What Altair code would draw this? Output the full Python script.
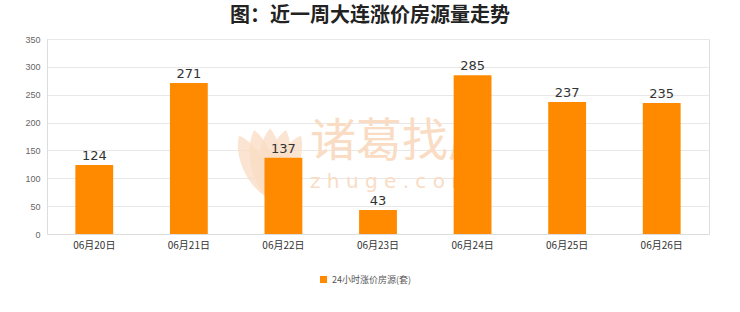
import altair as alt
import pandas as pd

dates = ["06月20日", "06月21日", "06月22日", "06月23日", "06月24日", "06月25日", "06月26日"]
counts = [124, 271, 137, 43, 285, 237, 235]
series_name = "24小时涨价房源(套)"
bar_color = "#FF8A00"

df = pd.DataFrame({"date": dates, "count": counts, "series": series_name})

W, H = 662, 195
cjk = "Noto Sans CJK SC"
wm_color = "#f9dcc3"

base = alt.Chart(df).encode(
    x=alt.X(
        "date:N",
        sort=dates,
        scale=alt.Scale(paddingInner=0.6, paddingOuter=0.3),
        axis=alt.Axis(
            title=None, labelAngle=0, labelFont=cjk, labelFontSize=10,
            labelColor="#333333", ticks=False, labelPadding=6,
            domainColor="#dddddd",
        ),
    ),
    y=alt.Y(
        "count:Q",
        scale=alt.Scale(domain=[0, 350]),
        axis=alt.Axis(
            title=None, values=list(range(0, 351, 50)), labelFontSize=9,
            labelColor="#666666", ticks=False, labelPadding=7,
            gridColor="#e8e8e8", domainColor="#dddddd",
        ),
    ),
)

bars = base.mark_bar(color=bar_color).encode(
    color=alt.Color(
        "series:N",
        scale=alt.Scale(range=[bar_color]),
        legend=alt.Legend(
            title=None, orient="none", legendX=272, legendY=236,
            symbolType="square", symbolSize=50, labelFont=cjk,
            labelFontSize=9, labelColor="#555555", symbolStrokeWidth=0,
        ),
    )
)

labels = base.mark_text(dy=-9, fontSize=13, color="#333333", font="DejaVu Sans").encode(
    text="count:Q"
)

# faint brand watermark behind the bars: fan of petals, name and web address
petal = "M0,0 C0.42,-0.5 0.42,-1.5 0,-2 C-0.42,-1.5 -0.42,-0.5 0,0 Z"
logo = [
    alt.Chart(pd.DataFrame({"k": [0]})).mark_point(
        shape=petal, filled=True, color=wm_color, opacity=0.75,
        size=5000, strokeWidth=0, angle=a,
    ).encode(x=alt.value(223), y=alt.value(160))
    for a in (334, 347, 0, 13, 26)
]
wm1 = alt.Chart(pd.DataFrame({"t": ["诸葛找房"]})).mark_text(
    font=cjk, fontSize=46, color=wm_color, align="left", baseline="middle"
).encode(x=alt.value(263), y=alt.value(103), text="t:N")
wm2 = alt.Chart(pd.DataFrame({"t": ["z h u g e . c o m"]})).mark_text(
    font="DejaVu Sans", fontSize=20, color=wm_color, align="left", baseline="middle"
).encode(x=alt.value(263), y=alt.value(143), text="t:N")

chart = (
    alt.layer(*logo, wm1, wm2, bars, labels)
    .properties(
        width=W, height=H,
        title=alt.TitleParams(
            "图：近一周大连涨价房源量走势", font=cjk, fontSize=20,
            fontWeight="bold", color="#222222", offset=9, dx=-8,
        ),
        autosize=alt.AutoSizeParams(type="none"),
        padding={"left": 47, "top": 39, "right": 31, "bottom": 78},
    )
    .configure_view(stroke="#dddddd")
    .configure(background="white")
)

chart.save("out.html", embed_options={"renderer": "svg", "actions": False})
